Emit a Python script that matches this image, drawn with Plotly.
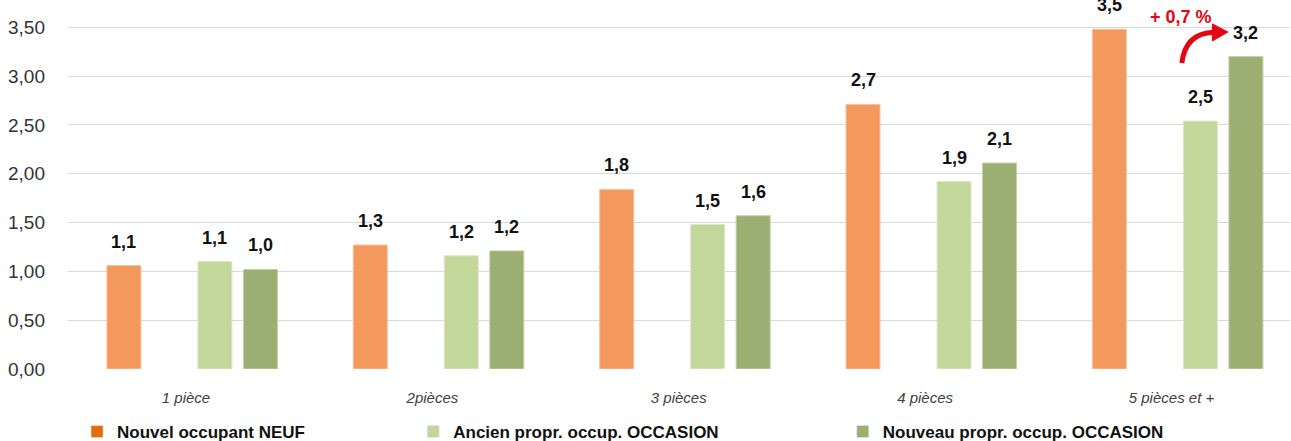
import plotly.graph_objects as go

CATEGORIES = ["1 pièce", "2pièces", "3 pièces", "4 pièces", "5 pièces et +"]
NEUF = [1.06, 1.27, 1.84, 2.71, 3.48]
ANCIEN_OCC = [1.10, 1.16, 1.48, 1.92, 2.54]
NOUVEAU_OCC = [1.02, 1.21, 1.57, 2.11, 3.20]
SERIES_NAMES = ["Nouvel occupant NEUF", "Ancien propr. occup. OCCASION", "Nouveau propr. occup. OCCASION"]
Y_TICKS = [0, 0.5, 1, 1.5, 2, 2.5, 3, 3.5]
DELTA_TEXT = "+ 0,7 %"

BAR_COLORS = ["#F4995D", "#C4D79B", "#9BAF72"]
LEGEND_COLORS = ["#E46C0A", "#C4D79B", "#9BAF72"]
BAR_EDGES = ["#F9C29C", "#DCE8C3", "#C3D0A8"]
FONT = "Liberation Sans, Arial, sans-serif"

SLOT = 0.1847
BAR_W = 0.138
# 4 slots per group, the second one is left empty; groups sit slightly right of the label
SHIFT = 0.025
SLOT_POS = [-1.5 * SLOT + SHIFT, 0.5 * SLOT + SHIFT, 1.5 * SLOT + SHIFT]

fig = go.Figure()
x_idx = list(range(len(CATEGORIES)))
series = [NEUF, ANCIEN_OCC, NOUVEAU_OCC]
legends = ["legend", "legend2", "legend3"]

for i, vals in enumerate(series):
    xs = [k + SLOT_POS[i] for k in x_idx]
    fig.add_trace(go.Bar(
        x=xs, y=vals, width=BAR_W,
        marker=dict(color=BAR_COLORS[i], line=dict(color=BAR_EDGES[i], width=1)),
        showlegend=False, hoverinfo="skip",
    ))
    # legend-only entry (legend swatch is darker than bar for NEUF)
    fig.add_trace(go.Bar(
        x=[None], y=[None], name=f"<b>{SERIES_NAMES[i]}</b>",
        marker=dict(color=LEGEND_COLORS[i]),
        legend=legends[i], showlegend=True,
    ))
    for x, v in zip(xs, vals):
        fig.add_annotation(
            x=x, y=v, text=f"<b>{v:.1f}</b>".replace(".", ","),
            showarrow=False, yshift=24,
            font=dict(family=FONT, size=18, color="#111111"),
        )

# red curved arrow + delta label
fig.add_shape(type="path", path="M 4.042,3.135 Q 4.056,3.44 4.172,3.45",
              line=dict(color="#E30613", width=5), layer="above")
fig.add_shape(type="path", path="M 4.166,3.535 L 4.166,3.36 L 4.229,3.452 Z",
              fillcolor="#E30613", line=dict(color="#E30613", width=1), layer="above")
fig.add_annotation(x=4.038, y=3.607, text=f"<b>{DELTA_TEXT}</b>", showarrow=False,
                   font=dict(family=FONT, size=18, color="#E30613"))

legend_style = dict(yanchor="middle", orientation="h", itemwidth=30,
                    font=dict(family=FONT, size=17, color="#111111"))

fig.update_layout(
    width=1291, height=441,
    margin=dict(l=68, r=1, t=0, b=72, autoexpand=False),
    paper_bgcolor="white", plot_bgcolor="white",
    separators=", ",
    barmode="overlay",
    font=dict(family=FONT, size=17, color="#222222"),
    legend=dict(x=0.0074, y=-0.1707, **legend_style),
    legend2=dict(x=0.2825, y=-0.1707, **legend_style),
    legend3=dict(x=0.634, y=-0.1707, **legend_style),
)
fig.update_xaxes(
    range=[-0.479, 4.481], tickvals=x_idx,
    ticktext=[f"<i>{c}</i>" for c in CATEGORIES],
    tickfont=dict(family=FONT, size=15, color="#404040"),
    showgrid=False, zeroline=False, ticks="", ticklabelstandoff=18,
    automargin=False,
)
fig.update_yaxes(
    range=[0, 3.78], tickvals=Y_TICKS, tickformat=".2f",
    tickfont=dict(family=FONT, size=19, color="#333333"),
    showgrid=True, gridcolor="#D9D9D9", gridwidth=1, zeroline=False,
    ticklabelstandoff=22, automargin=False,
)

# drop the default 8px body margin so the figure fills the window exactly
fig.write_html("out.html", config={"displayModeBar": False},
               post_script="document.body.style.margin='0px';")
